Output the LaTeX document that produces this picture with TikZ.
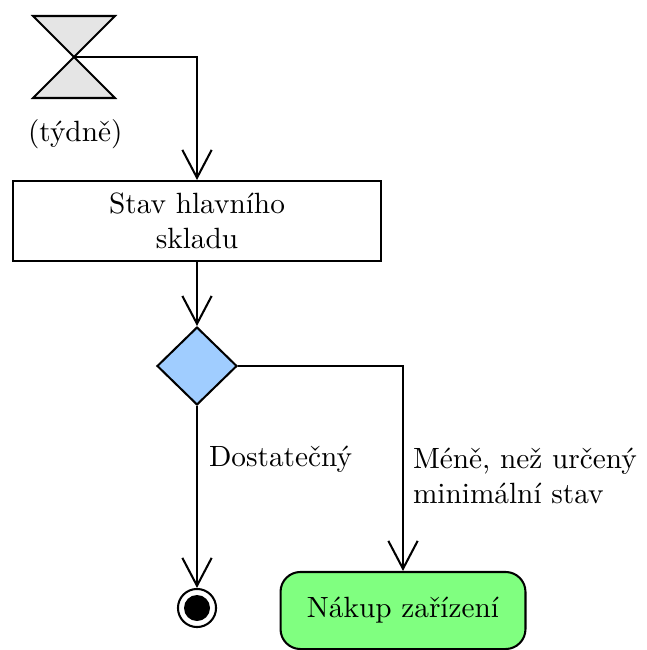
\documentclass[tikz,border=0pt]{standalone}
\usepackage{fontspec}
\usetikzlibrary{arrows.meta,shapes.geometric}
\definecolor{hourfill}{HTML}{E5E5E5}
\definecolor{decfill}{HTML}{A0CDFF}
\definecolor{actfill}{HTML}{80FF80}
\begin{document}
\begin{tikzpicture}[x=0.3413pt,y=-0.3413pt,line width=0.7pt,
  flow/.style={-{Straight Barb[length=9.5pt,width=10pt]}},
  actbox/.style={draw,fill=white,align=center,inner sep=0pt,
    minimum width=125.9pt,minimum height=27.3pt},
  decision/.style={draw,diamond,fill=decfill,inner sep=0pt,
    minimum width=27.3pt,minimum height=26.6pt},
  finalnode/.style={draw,circle,fill=white,inner sep=0pt,minimum size=13pt},
  activity/.style={draw,fill=actfill,rounded corners=6.8pt,inner sep=0pt,
    minimum width=83.6pt,minimum height=26.3pt},
  lbl/.style={inner sep=0pt}]
  \useasboundingbox (0,0) rectangle (646,650);

  % time event (hourglass)
  \coordinate (hg) at (74,57);
  \draw[fill=hourfill] (33,16) -- (115,16) -- (hg) -- cycle;
  \draw[fill=hourfill] (33,98) -- (115,98) -- (hg) -- cycle;
  \node[lbl,anchor=base west] (period) at (27,142) {(týdně)};

  % activities and control nodes
  \node[actbox] (stav) at (197,221) {Stav hlavního\\skladu};
  \node[decision] (dec) at (197,366) {};
  \node[finalnode] (fin) at (197,608) {};
  \fill (fin.center) circle (13);
  \node[activity] (buy) at (403,610.5) {Nákup zařízení};

  % control flows
  \draw[flow] (hg) -| (stav.north);
  \draw[flow] (stav) -- (dec);
  \draw[flow] (dec) -- (fin);
  \draw[flow] (dec.east) -| (buy.north);

  % guards
  \node[lbl,anchor=base west] (g1) at (208,466) {Dostatečný};
  \node[lbl,anchor=north west,align=left] (g2) at (412,447) {Méně, než určený\\minimální stav};
\end{tikzpicture}
\end{document}
